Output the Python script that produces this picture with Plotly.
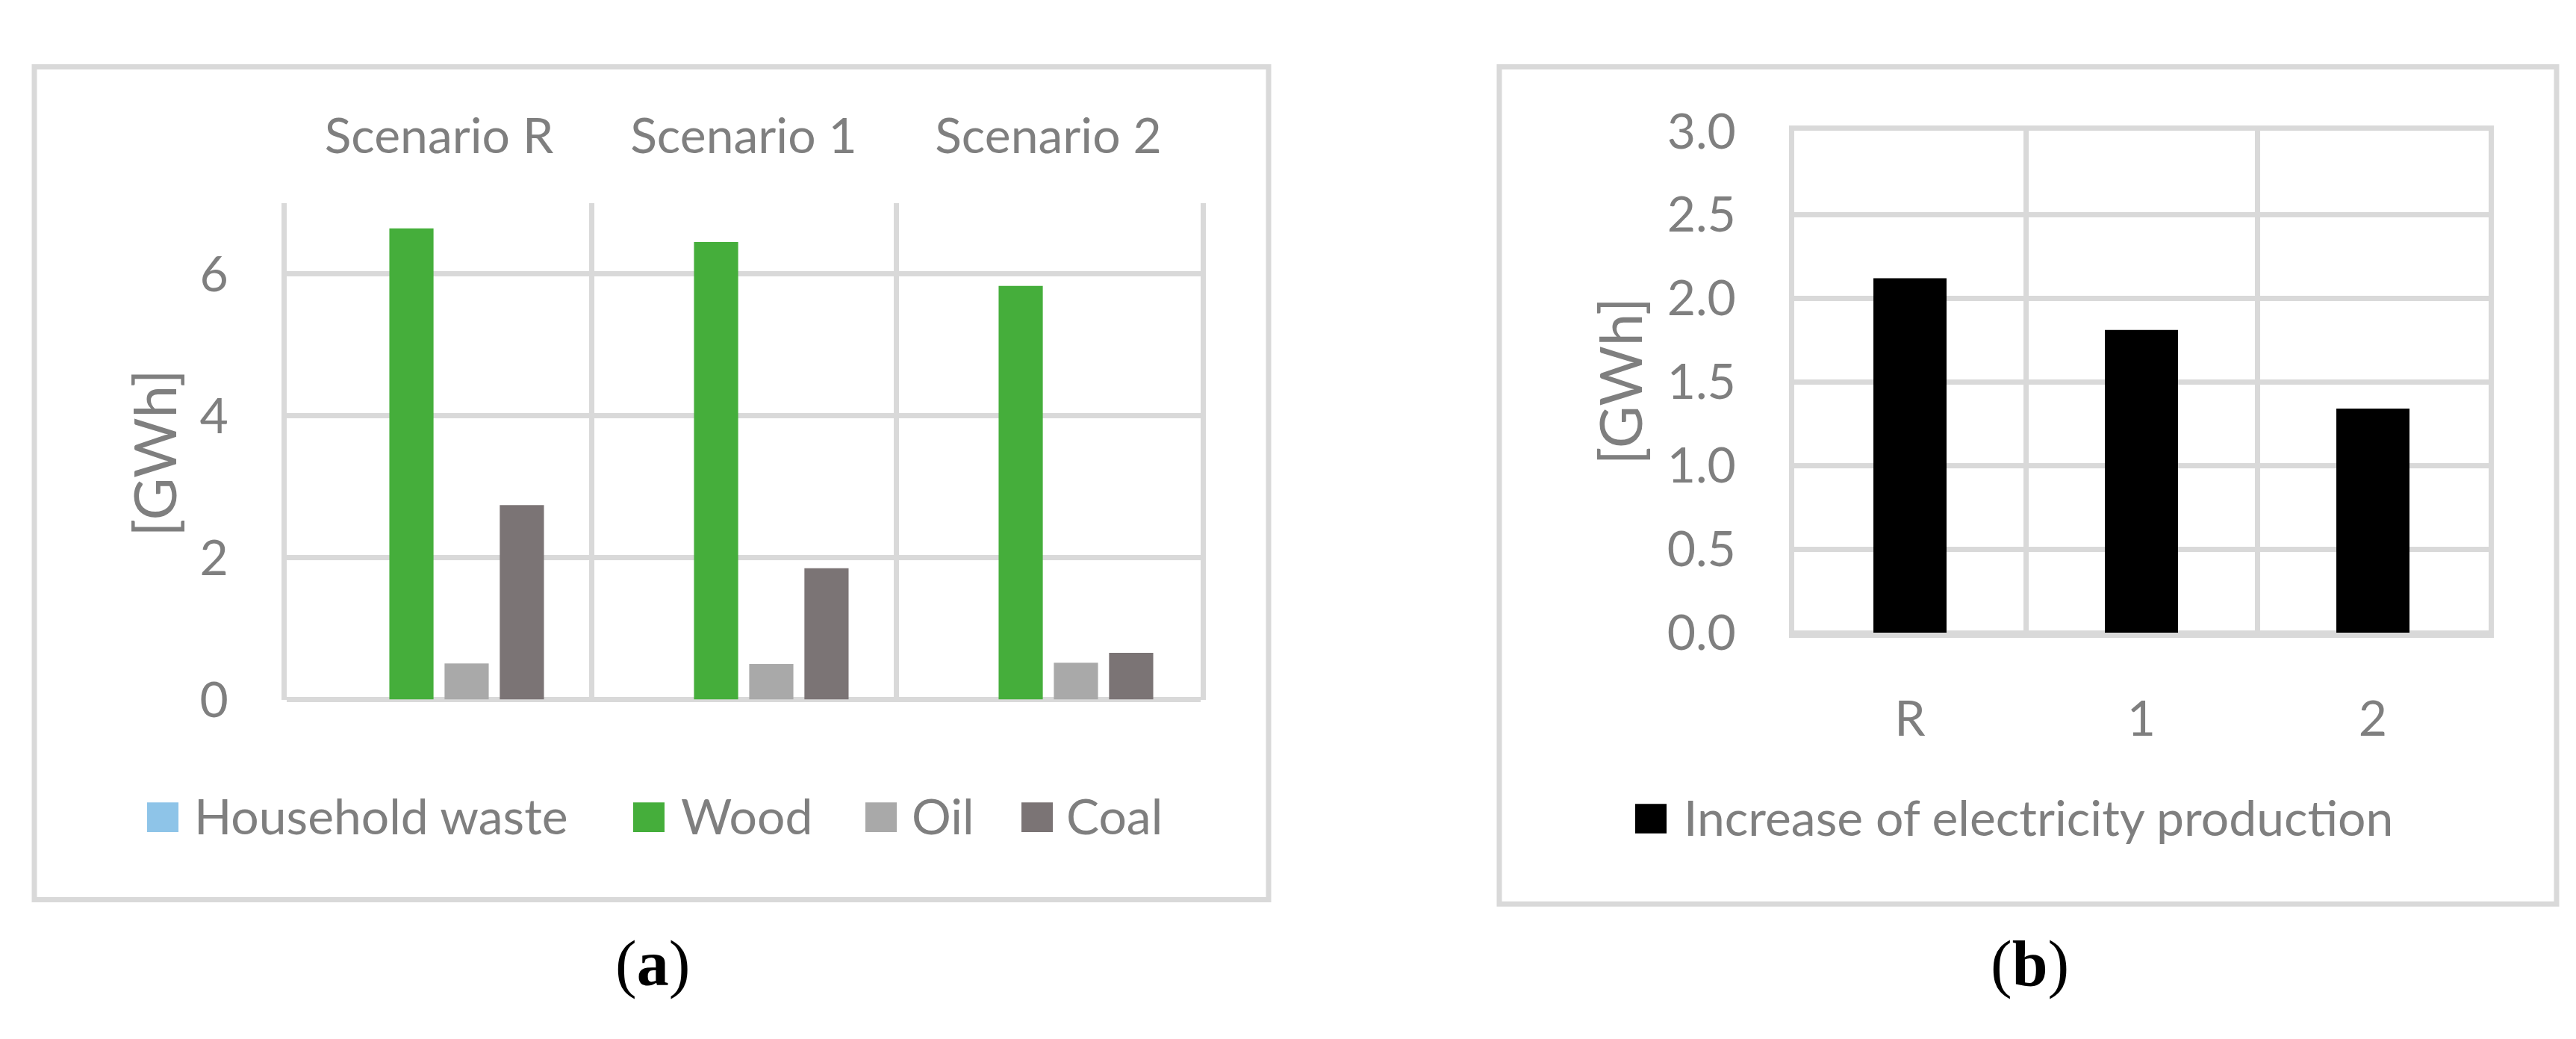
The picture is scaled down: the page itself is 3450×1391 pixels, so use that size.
import plotly.graph_objects as go

# ---------------- data ----------------
scenarios_a = ["Scenario R", "Scenario 1", "Scenario 2"]
household_waste = [0.0, 0.0, 0.0]
wood = [6.64, 6.45, 5.83]
oil = [0.51, 0.50, 0.52]
coal = [2.74, 1.85, 0.66]
series_names = ["Household waste", "Wood", "Oil", "Coal"]
series_colors = ["#8EC4E8", "#45AE3B", "#A9A9A9", "#7B7475"]

scenarios_b = ["R", "1", "2"]
electricity_increase = [2.12, 1.81, 1.34]
b_name = "Increase of electricity production"
b_color = "#000000"

# ---------------- layout helpers ----------------
W, H = 3450, 1391
FONT = "Lato, 'Open Sans', sans-serif"
GRAY = "#7F7F7F"
GRID = "#D9D9D9"
TS = 66


def px(x):
    return x / W


def py(y):
    return 1 - y / H


fig = go.Figure()

# panel (a)
for name, vals, col in zip(series_names, [household_waste, wood, oil, coal], series_colors):
    fig.add_trace(go.Bar(x=scenarios_a, y=vals, name=name, marker=dict(color=col, line=dict(width=0)),
                         xaxis="x", yaxis="y", showlegend=False))

# panel (b)
fig.add_trace(go.Bar(x=scenarios_b, y=electricity_increase, name=b_name, width=0.316,
                     marker=dict(color=b_color, line=dict(width=0)),
                     xaxis="x2", yaxis="y2", showlegend=False))

axis_common = dict(showgrid=True, gridcolor=GRID, gridwidth=7,
                   tickfont=dict(family=FONT, size=TS, color=GRAY), ticks="", fixedrange=True)
line_style = dict(showline=True, mirror=True, linecolor=GRID, linewidth=7)

fig.update_layout(
    width=W, height=H,
    margin=dict(l=0, r=0, t=0, b=0),
    paper_bgcolor="white", plot_bgcolor="white",
    barmode="group", bargap=0.275, bargroupgap=0.2,
    font=dict(family=FONT, color=GRAY),
    showlegend=False,
    xaxis=dict(domain=[px(376), px(1600)], anchor="y", side="top", type="category",
               range=[-0.5, 2.5], tickson="boundaries", ticklabelstandoff=52, zeroline=False,
               showline=False, **axis_common),
    yaxis=dict(domain=[py(940), py(235)], anchor="x", range=[0, 7], dtick=2, tick0=0,
               zeroline=True, zerolinecolor=GRID, zerolinewidth=7, ticklabelstandoff=58,
               **line_style, **axis_common),
    xaxis2=dict(domain=[px(2395), px(3325)], anchor="y2", side="bottom", type="category",
                range=[-0.5, 2.5], tickson="boundaries", ticklabelstandoff=52, zeroline=False,
                **line_style, **axis_common),
    yaxis2=dict(domain=[py(845), py(133)], anchor="x2", range=[0, 3], dtick=0.5, tick0=0,
                tickformat=".1f", zeroline=True, zerolinecolor=GRID, zerolinewidth=7,
                ticklabelstandoff=58, **line_style, **axis_common),
)

shapes = []
annotations = []

# outer frames
for (x0, y0, x1, y1) in [(38, 42, 1691, 1224), (2000, 42, 3416, 1230)]:
    shapes.append(dict(type="rect", xref="paper", yref="paper", x0=px(x0), x1=px(x1),
                       y0=py(y1), y1=py(y0), line=dict(color=GRID, width=7), layer="below"))

# y-axis titles
for xc, yc in [(198, 590), (2161, 488)]:
    annotations.append(dict(text="[GWh]", xref="paper", yref="paper", x=px(xc), y=py(yc),
                            xanchor="center", yanchor="middle", textangle=-90, showarrow=False,
                            font=dict(family=FONT, size=78, color=GRAY)))

# legends (drawn swatches + labels)
legend_a_sq = [189, 840, 1151, 1360]
legend_a_tx = [250, 902, 1211, 1418]
for name, col, sx, tx in zip(series_names, series_colors, legend_a_sq, legend_a_tx):
    shapes.append(dict(type="rect", xref="paper", yref="paper", x0=px(sx), x1=px(sx + 42),
                       y0=py(1128), y1=py(1086), fillcolor=col, line=dict(width=0)))
    annotations.append(dict(text=name, xref="paper", yref="paper", x=px(tx), y=py(1104),
                            xanchor="left", yanchor="middle", showarrow=False,
                            font=dict(family=FONT, size=TS, color=GRAY)))

shapes.append(dict(type="rect", xref="paper", yref="paper", x0=px(2182), x1=px(2224),
                   y0=py(1130), y1=py(1088), fillcolor=b_color, line=dict(width=0)))
annotations.append(dict(text=b_name, xref="paper", yref="paper", x=px(2245), y=py(1106),
                        xanchor="left", yanchor="middle", showarrow=False,
                        font=dict(family=FONT, size=TS, color=GRAY)))

# panel captions
for lab, xc in [("a", 866), ("b", 2710)]:
    annotations.append(dict(text="(<b>%s</b>)" % lab, xref="paper", yref="paper", x=px(xc), y=py(1315),
                            xanchor="center", yanchor="middle", showarrow=False,
                            font=dict(family="'Liberation Serif', 'Times New Roman', serif", size=86,
                                      color="#000000")))

fig.update_layout(shapes=shapes, annotations=annotations)

fig.write_html("out.html")
